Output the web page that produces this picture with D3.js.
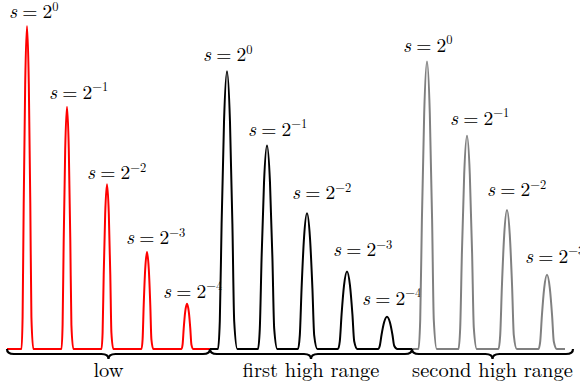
<!DOCTYPE html>
<html>
<head>
<meta charset="utf-8">
<title>Peaks</title>
<script src="https://cdnjs.cloudflare.com/ajax/libs/d3/7.8.5/d3.min.js"></script>
<style>
  body { margin: 0; background: #fff; }
</style>
</head>
<body>
<script>
// peak heights (relative to the tallest), one array per range
var lowHeights = [1.00, 0.75, 0.51, 0.30, 0.14];
var firstHighHeights = [0.86, 0.63, 0.42, 0.24, 0.10];
var secondHighHeights = [0.89, 0.66, 0.43, 0.23];
var exponents = [0, -1, -2, -3, -4];
var groupNames = ["low", "first high range", "second high range"];
var groupColors = ["#ff0000", "#000000", "#808080"];
// position (in peak slots) where each range starts and ends
var groupFrom = [-0.5, 4.575, 9.625];
var groupTo = [4.575, 9.625, 13.45];
var braceTo = [4.575, 9.625, 13.65];

var width = 580, height = 385;
var font = "Latin Modern Roman";

var svg = d3.select("body").append("svg")
    .attr("width", width)
    .attr("height", height);

var x = d3.scaleLinear().domain([0, 13]).range([27, 547]);
var y = d3.scaleLinear().domain([0, 1]).range([349, 26]);

var groups = [lowHeights, firstHighHeights, secondHighHeights];
var halfWidth = [5.5, 9, 8.5]; // px at the foot of a peak
// label placement relative to the peak top (left edge, gap above)
var labelDx = [[-18, -18, -20, -21, -24], [-24, -19, -15, -14, -25], [-24, -17, -20, -22]];
var labelDy = [[8, 8, 5, 8, 6], [10, 10, 14, 15, 12], [10, 11, 14, 12]];

// shape of one peak: (fraction of half width, fraction of height)
var profile = [[-1, 0], [-0.8, 0.1], [-0.6, 0.45], [-0.33, 0.82], [0, 1],
               [0.33, 0.82], [0.6, 0.45], [0.8, 0.1], [1.15, 0]];

var line = d3.line()
    .x(function(d) { return d[0]; })
    .y(function(d) { return d[1]; })
    .curve(d3.curveMonotoneX);

var start = 0;
groups.forEach(function(heights, g) {
  var pts = [[x(groupFrom[g]), y(0)]];
  heights.forEach(function(h, i) {
    var cx = x(start + i);
    profile.forEach(function(p) {
      pts.push([cx + p[0] * halfWidth[g], y(h * p[1])]);
    });
  });
  pts.push([x(groupTo[g]), y(0)]);

  svg.append("path")
      .attr("d", line(pts))
      .attr("fill", "none")
      .attr("stroke", groupColors[g])
      .attr("stroke-width", 2)
      .attr("stroke-linejoin", "round");

  // labels s = 2^k
  var lab = svg.selectAll(".lab" + g)
      .data(heights)
      .enter().append("text")
      .attr("class", "lab" + g)
      .attr("font-family", font)
      .attr("font-size", 19.5)
      .attr("x", function(d, i) { return x(start + i) + labelDx[g][i]; })
      .attr("y", function(d, i) { return y(d) - labelDy[g][i]; });
  lab.append("tspan").attr("font-style", "italic").text("s");
  lab.append("tspan").attr("dx", 5.2).text("=");
  lab.append("tspan").attr("dx", 5.2).text("2");
  lab.append("tspan")
      .attr("dy", -7.5)
      .attr("font-size", 12.5)
      .text(function(d, i) { return exponents[i] === 0 ? "0" : "\u2212" + (-exponents[i]); });

  // brace under the range
  var x1 = x(groupFrom[g]), x2 = x(braceTo[g]), xm = (x1 + x2) / 2;
  var y0 = 349, d = 5, q = 7;
  var brace = "M" + x1 + "," + y0 +
      "Q" + x1 + "," + (y0 + d) + " " + (x1 + q) + "," + (y0 + d) +
      "L" + (xm - q) + "," + (y0 + d) +
      "Q" + xm + "," + (y0 + d) + " " + xm + "," + (y0 + 2 * d) +
      "Q" + xm + "," + (y0 + d) + " " + (xm + q) + "," + (y0 + d) +
      "L" + (x2 - q) + "," + (y0 + d) +
      "Q" + x2 + "," + (y0 + d) + " " + x2 + "," + y0;
  svg.append("path")
      .attr("d", brace)
      .attr("fill", "none")
      .attr("stroke", "#000")
      .attr("stroke-width", 2.2);

  svg.append("text")
      .attr("x", xm)
      .attr("y", 377)
      .attr("text-anchor", "middle")
      .attr("font-family", font)
      .attr("font-size", 20.5)
      .text(groupNames[g]);

  start += heights.length;
});
</script>
</body>
</html>
